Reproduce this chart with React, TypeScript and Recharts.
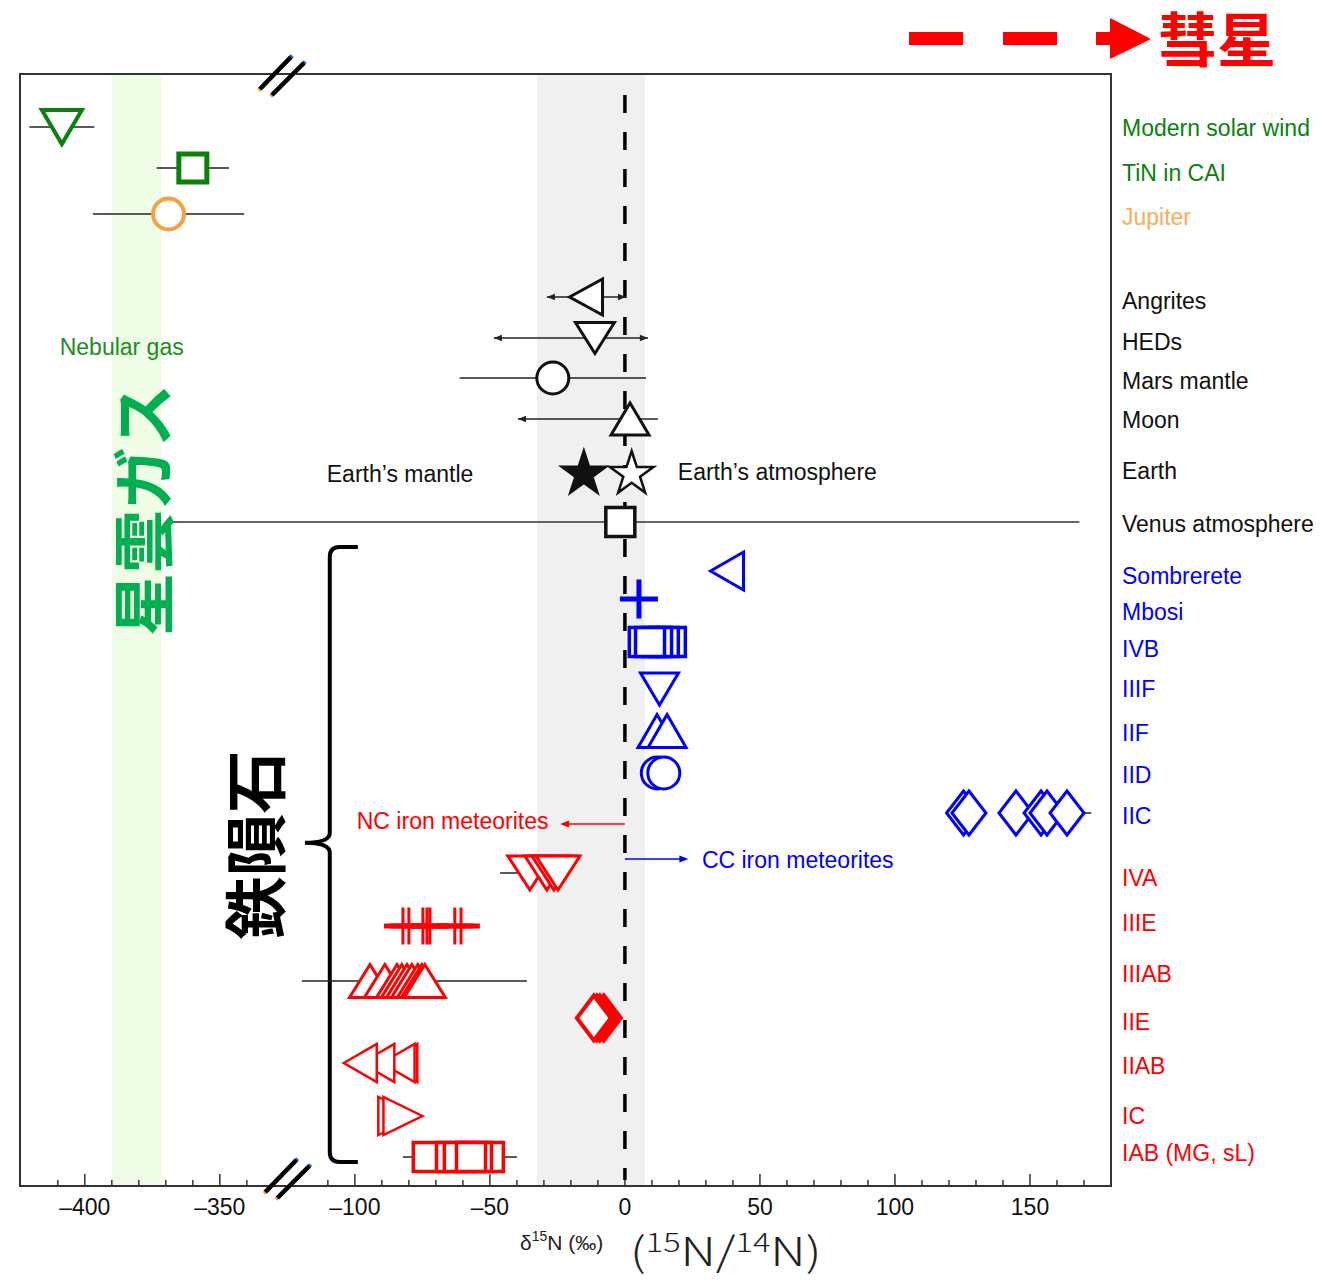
import React from 'react';
import {
  ScatterChart, Scatter, XAxis, YAxis, ErrorBar,
  ReferenceArea, ReferenceLine, ReferenceDot,
} from 'recharts';

// ---------- styling constants ----------
const FONT = '"Liberation Sans", Arial, Helvetica, sans-serif';
const CJK = '"Noto Sans CJK JP", "Noto Sans CJK SC", sans-serif';
const GREEN = '#0a820a';
const ORANGE = '#f7a040';
const ORANGE_L = '#ffaa55';
const BLACK = '#111111';
const BLUE = '#0000ff';
const RED = '#ff0000';

// ---------- broken x axis: values below -250 ‰ are shifted by +200 ----------
const BREAK_SHIFT = 200;
const toAxis = (v: number) => (v < -250 ? v + BREAK_SHIFT : v);
const fromAxis = (c: number) => (c < -125 ? c - BREAK_SHIFT : c);
const X_DOMAIN: [number, number] = [-224, 180];
const Y_DOMAIN: [number, number] = [0, 1112];

const MAJOR_TICK_VALUES = [-400, -350, -100, -50, 0, 50, 100, 150];
const MINOR_TICK_VALUES = [
  -410, -390, -380, -370, -360, -340,
  -110, -90, -80, -70, -60, -40, -30, -20, -10,
  10, 20, 30, 40, 60, 70, 80, 90, 110, 120, 130, 140, 160, 170,
];

// ---------- right-hand category labels ----------
const LABELS = [
  'Modern solar wind', 'TiN in CAI', 'Jupiter',
  'Angrites', 'HEDs', 'Mars mantle', 'Moon', 'Earth', 'Venus atmosphere',
  'Sombrerete', 'Mbosi', 'IVB', 'IIIF', 'IIF', 'IID', 'IIC',
  'IVA', 'IIIE', 'IIIAB', 'IIE', 'IIAB', 'IC', 'IAB (MG, sL)',
];
const LABEL_ROWS = [54, 99, 143, 227, 268, 307, 346, 397, 450, 502, 538, 575, 615, 659, 701, 742, 804, 849, 900, 948, 992, 1042, 1079];
const LABEL_COLORS = [
  GREEN, GREEN, ORANGE_L,
  BLACK, BLACK, BLACK, BLACK, BLACK, BLACK,
  BLUE, BLUE, BLUE, BLUE, BLUE, BLUE, BLUE,
  RED, RED, RED, RED, RED, RED, RED,
];

// ---------- marker rows ----------
const ROW = {
  solarWind: 53, tin: 94, jupiter: 140,
  angrites: 223, heds: 264, mars: 304, moon: 345, earth: 398, venus: 448,
  sombrerete: 497, mbosi: 525, ivb: 568, iiif: 615, iif: 657, iid: 699, iic: 739,
  iva: 799, iiie: 852, iiiab: 907, iie: 944, iiab: 989, ic: 1042, iab: 1083,
};

// ---------- δ15N values (‰) and x-errors ----------
const solarWind = [-408.5];
const solarWindErr = [12];
const tinCAI = [-360];
const tinCAIErr = [13.4];
const jupiter = [-369];
const jupiterErr = [28];

const angrites = [-14.4];
const angritesErr: [number, number][] = [[14.5, 14.8]];
const heds = [-11.1];
const hedsErr: [number, number][] = [[37.4, 19.6]];
const marsMantle = [-26.7];
const marsMantleErr = [34.5];
const moon = [1.9];
const moonErr: [number, number][] = [[41.5, 10.3]];
const earthMantle = [-15.2];
const earthAtmosphere = [2.5];
const venus = [-1.7];
const venusErr: [number, number][] = [[168, 170]];

const sombrerete = [37.8];
const mbosi = [5.2];
const ivb = [17.0, 14.4, 11.9, 7.0, 9.3];
const iiif = [12.8];
const iif = [11.9, 15.6];
const iid = [12.0, 14.4];
const iic = [125.4, 127.4, 144.8, 154.1, 156.3, 163.7];
const iicErr = [0, 0, 0, 0, 0, 9];

const iva = [-35.2, -28.9, -26.3, -24.8];
const ivaErr = [11, 0, 0, 0];
const iiie = [-82.2, -80.0, -74.8, -73.3, -72.2, -63.0, -60.7];
const iiieErr = [7, 7, 7, 7, 7, 7, 7];
const iiiab = [-94.4, -88.9, -84.4, -82.6, -80.7, -78.9, -76.7, -75.2, -74.1];
const iiiabErr: (number | [number, number])[] = [0, 0, 0, 0, 0, [40.7, 42.6], 0, 0, 0];
const iie = [-7.8, -9.3, -10.4, -11.5];
const iiab = [-83.0, -84.0, -91.5, -98.0];
const ic = [-84.1, -82.2];
const iab = [-50.4, -54.8, -73.0, -64.4, -61.5, -57.0];
const iabErr: (number | [number, number])[] = [0, 0, 0, 0, [20.7, 21.5], 0];

// ---------- helpers ----------
type Err = number | [number, number];
const pts = (vals: number[], row: number, errs?: Err[]) =>
  vals.map((v, i) => ({ x: toAxis(v), y: row, err: errs ? errs[i] : 0 }));

const arrowTips = (vals: number[], errs: [number, number][], row: number, sides: ('L' | 'R')[]) =>
  sides.map((s) => ({ x: toAxis(s === 'L' ? vals[0] - errs[0][0] : vals[0] + errs[0][1]), y: row, dir: s }));

type MK = { kind: string; stroke: string; fill?: string; sw?: number; w?: number; h?: number };

function drawMarker(m: MK, cx: number, cy: number) {
  const { kind, stroke, fill = '#fff', sw = 3, w = 40, h = 40 } = m;
  const hw = w / 2;
  const hh = h / 2;
  const c = { stroke, fill, strokeWidth: sw, strokeLinejoin: 'miter' as const };
  switch (kind) {
    case 'triDown':
      return <polygon points={`${cx - hw},${cy - hh} ${cx + hw},${cy - hh} ${cx},${cy + hh}`} {...c} />;
    case 'triUp':
      return <polygon points={`${cx},${cy - hh} ${cx + hw},${cy + hh} ${cx - hw},${cy + hh}`} {...c} />;
    case 'triLeft':
      return <polygon points={`${cx - hw},${cy} ${cx + hw},${cy - hh} ${cx + hw},${cy + hh}`} {...c} />;
    case 'triRight':
      return <polygon points={`${cx + hw},${cy} ${cx - hw},${cy - hh} ${cx - hw},${cy + hh}`} {...c} />;
    case 'square':
      return <rect x={cx - hw} y={cy - hh} width={w} height={h} {...c} />;
    case 'circle':
      return <circle cx={cx} cy={cy} r={hw} {...c} />;
    case 'diamond':
      return <polygon points={`${cx},${cy - hh} ${cx + hw},${cy} ${cx},${cy + hh} ${cx - hw},${cy}`} {...c} />;
    case 'star': {
      const p: string[] = [];
      for (let i = 0; i < 10; i++) {
        const a = (-90 + i * 36) * (Math.PI / 180);
        const r = i % 2 === 0 ? hw : hw * 0.382;
        p.push(`${cx + r * Math.cos(a)},${cy + 2 + r * Math.sin(a)}`);
      }
      return <polygon points={p.join(' ')} {...c} />;
    }
    case 'plus':
      return (
        <g stroke={stroke} strokeWidth={sw}>
          <line x1={cx - hw} y1={cy} x2={cx + hw} y2={cy} />
          <line x1={cx} y1={cy - hh} x2={cx} y2={cy + hh} />
        </g>
      );
    case 'vbar':
      return <line x1={cx} y1={cy - hh} x2={cx} y2={cy + hh} stroke={stroke} strokeWidth={sw} />;
    default:
      return <g />;
  }
}
const shapeOf = (m: MK) => (p: any) => (p.cx == null || p.cy == null ? <g /> : drawMarker(m, p.cx, p.cy));

const arrowHead = (color: string) => (p: any) => {
  if (p.cx == null) return <g />;
  const { cx, cy } = p;
  const dir = p.payload?.dir ?? p.dir;
  const s = dir === 'L' ? 1 : -1;
  return <polygon points={`${cx},${cy} ${cx + s * 8},${cy - 3.2} ${cx + s * 8},${cy + 3.2}`} fill={color} />;
};

const fmtTick = (c: number) => {
  const v = Math.round(fromAxis(c));
  return v < 0 ? `\u2013${Math.abs(v)}` : `${v}`;
};

const RightLabel = (p: any) => {
  const i = LABEL_ROWS.indexOf(p.payload.value);
  return (
    <text x={p.x} y={p.y} dy="0.36em" textAnchor="start" fill={LABEL_COLORS[i]} fontSize={23} fontFamily={FONT}>
      {LABELS[i]}
    </text>
  );
};

// annotations inside the plot (positions in δ15N / row units)
const ANNOTATIONS = [
  { text: 'Nebular gas', v: -409.3, row: 273, color: '#1e8c1e' },
  { text: 'Earth\u2019s mantle', v: -110.4, row: 400, color: BLACK },
  { text: 'Earth\u2019s atmosphere', v: 19.6, row: 398, color: BLACK },
  { text: 'NC iron meteorites', v: -99.3, row: 747, color: RED },
  { text: 'CC iron meteorites', v: 28.5, row: 786, color: BLUE },
];
const VERTICAL_TEXT = [
  { text: '星雲ガス', v: -379.6, row: 436, color: '#00b050' },
  { text: '鉄隕石', v: -138.1, row: 771, color: '#000' },
];

const textShape = (t: { text: string; color: string }) => (p: any) => (
  <text x={p.cx} y={p.cy} dy="0.36em" textAnchor="start" fill={t.color} fontSize={23} fontFamily={FONT}>{t.text}</text>
);
const vTextShape = (t: { text: string; color: string }) => (p: any) => (
  <text x={p.cx} y={p.cy} textAnchor="middle" dominantBaseline="central" fill={t.color} fontSize={63}
    fontWeight={700} fontFamily={CJK} transform={`rotate(-90 ${p.cx} ${p.cy})`}>{t.text}</text>
);

const breakShape = (p: any) => {
  const { cx, cy } = p;
  const seg = (x1: number, y1: number, x2: number, y2: number, k: string) => (
    <g key={k}>
      <line x1={cx + x1 - 1.3} y1={cy + y1 + 1.3} x2={cx + x2 - 1.3} y2={cy + y2 + 1.3} stroke="#f0a030" strokeWidth={4} />
      <line x1={cx + x1 + 1.3} y1={cy + y1 - 1.3} x2={cx + x2 + 1.3} y2={cy + y2 - 1.3} stroke="#2a5cc8" strokeWidth={4} />
      <line x1={cx + x1} y1={cy + y1} x2={cx + x2} y2={cy + y2} stroke="#000" strokeWidth={4.5} />
    </g>
  );
  return <g>{seg(-22, 14, 9, -18, 'a')}{seg(-10, 20, 22, -12, 'b')}</g>;
};

const braceShape = (p: any) => {
  const { x, y, width, height } = p;
  const L = x;
  const R = x + width;
  const Sx = x + width * 0.47;
  const T = y;
  const B = y + height;
  const M = y + height * 0.481;
  const d = `M ${R} ${T} L ${Sx + 10} ${T} Q ${Sx} ${T} ${Sx} ${T + 10} L ${Sx} ${M - 10} Q ${Sx} ${M} ${L} ${M} Q ${Sx} ${M} ${Sx} ${M + 10} L ${Sx} ${B - 10} Q ${Sx} ${B} ${Sx + 10} ${B} L ${R} ${B}`;
  return <path d={d} fill="none" stroke="#000" strokeWidth={4} />;
};

const frameShape = (p: any) => {
  const { x, y, width, height } = p;
  return <rect x={x} y={y} width={width} height={height} fill="none" stroke="#333" strokeWidth={2} />;
};

const headShape = (color: string, dir: 'L' | 'R') => (p: any) => {
  const { cx, cy } = p;
  const s = dir === 'L' ? 1 : -1;
  return <polygon points={`${cx},${cy} ${cx + s * 9},${cy - 3.5} ${cx + s * 9},${cy + 3.5}`} fill={color} />;
};

const S = (data: any[], m: MK, err?: { stroke: string; sw: number }) => (
  <Scatter data={data} shape={shapeOf(m)} isAnimationActive={false}>
    {err && <ErrorBar dataKey="err" direction="x" width={0} stroke={err.stroke} strokeWidth={err.sw} />}
  </Scatter>
);

const thin = { stroke: '#222', sw: 1.6 };
const TICK_LEN_MAJOR = 12;
const TICK_LEN_MINOR = 6;

export default function App() {
  const majors = MAJOR_TICK_VALUES.map(toAxis);
  const minors = MINOR_TICK_VALUES.map(toAxis);
  const yBottom = Y_DOMAIN[1];
  return (
    <div style={{ position: 'absolute', left: 0, top: 0, width: 1320, height: 1280, background: '#fff' }}>
      <ScatterChart width={1320} height={1280} margin={{ top: 74, right: 9, bottom: 34, left: 20 }}>
        <XAxis xAxisId={0} type="number" dataKey="x" domain={X_DOMAIN} allowDataOverflow ticks={majors} interval={0}
          tickFormatter={fmtTick} tickLine={false} tickSize={6} tickMargin={7} height={60}
          axisLine={{ stroke: '#333', strokeWidth: 2 }}
          tick={{ fontSize: 23, fill: BLACK, fontFamily: FONT }} />
        <YAxis yAxisId={0} orientation="right" type="number" dataKey="y" domain={Y_DOMAIN} reversed allowDataOverflow
          ticks={LABEL_ROWS} interval={0} tick={RightLabel} tickLine={false} tickSize={6} tickMargin={5} width={200}
          axisLine={{ stroke: '#333', strokeWidth: 2 }} />

        {/* bands */}
        <ReferenceArea x1={toAxis(-390)} x2={toAxis(-371.5)} y1={0} y2={1112} fill="#effde6" fillOpacity={1} stroke="none" />
        <ReferenceArea x1={-32.6} x2={7.4} y1={0} y2={1112} fill="#f0f0f0" fillOpacity={1} stroke="none" />
        <ReferenceArea x1={X_DOMAIN[0]} x2={X_DOMAIN[1]} y1={0} y2={1112} shape={frameShape} />

        {/* inward tick marks on the bottom axis */}
        {majors.map((t) => (
          <ReferenceLine key={`M${t}`} segment={[{ x: t, y: yBottom - TICK_LEN_MAJOR }, { x: t, y: yBottom }]} stroke="#333" strokeWidth={1.5} />
        ))}
        {minors.map((t) => (
          <ReferenceLine key={`m${t}`} segment={[{ x: t, y: yBottom - TICK_LEN_MINOR }, { x: t, y: yBottom }]} stroke="#333" strokeWidth={1.5} />
        ))}

        <ReferenceLine segment={[{ x: 0, y: 21 }, { x: 0, y: 1106 }]} stroke="#000" strokeWidth={3.5} strokeDasharray="18 19" />

        {/* NC / CC arrows */}
        <ReferenceLine segment={[{ x: 0, y: 750 }, { x: -23, y: 750 }]} stroke={RED} strokeWidth={1.5} />
        <ReferenceDot x={-24} y={750} r={0} shape={headShape(RED, 'L')} />
        <ReferenceLine segment={[{ x: 0, y: 785 }, { x: 22.5, y: 785 }]} stroke={BLUE} strokeWidth={1.5} />
        <ReferenceDot x={23.5} y={785} r={0} shape={headShape(BLUE, 'R')} />

        {/* brace */}
        <ReferenceArea x1={-118.5} x2={-98.9} y1={473} y2={1088} shape={braceShape} />

        {/* annotations */}
        {ANNOTATIONS.map((a) => (
          <ReferenceDot key={a.text} x={toAxis(a.v)} y={a.row} r={0} shape={textShape(a)} ifOverflow="visible" />
        ))}
        {VERTICAL_TEXT.map((a) => (
          <ReferenceDot key={a.text} x={toAxis(a.v)} y={a.row} r={0} shape={vTextShape(a)} ifOverflow="visible" />
        ))}

        {/* nebular gas / Jupiter */}
        {S(pts(solarWind, ROW.solarWind, solarWindErr), { kind: 'triDown', stroke: GREEN, sw: 4, w: 40, h: 34 }, thin)}
        {S(pts(tinCAI, ROW.tin, tinCAIErr), { kind: 'square', stroke: GREEN, sw: 5, w: 28, h: 28 }, thin)}
        {S(pts(jupiter, ROW.jupiter, jupiterErr), { kind: 'circle', stroke: ORANGE, sw: 4, w: 31 }, thin)}

        {/* planetary bodies */}
        {S(pts(angrites, ROW.angrites, angritesErr), { kind: 'triLeft', stroke: BLACK, sw: 3, w: 33, h: 36 }, thin)}
        {S(pts(heds, ROW.heds, hedsErr), { kind: 'triDown', stroke: BLACK, sw: 3, w: 39, h: 31 }, thin)}
        {S(pts(marsMantle, ROW.mars, [marsMantleErr[0]]), { kind: 'circle', stroke: BLACK, sw: 3, w: 32 }, thin)}
        {S(pts(moon, ROW.moon, moonErr), { kind: 'triUp', stroke: BLACK, sw: 3, w: 38, h: 32 }, thin)}
        {S(pts(earthMantle, ROW.earth), { kind: 'star', stroke: BLACK, fill: BLACK, sw: 2, w: 48 })}
        {S(pts(earthAtmosphere, ROW.earth), { kind: 'star', stroke: BLACK, sw: 2.5, w: 46 })}
        {S(pts(venus, ROW.venus, venusErr), { kind: 'square', stroke: BLACK, sw: 3.5, w: 29, h: 29 }, { stroke: '#333', sw: 1.6 })}
        <Scatter data={[
          ...arrowTips(angrites, angritesErr, ROW.angrites, ['L', 'R']),
          ...arrowTips(heds, hedsErr, ROW.heds, ['L', 'R']),
          ...arrowTips(moon, moonErr, ROW.moon, ['L']),
        ]} shape={arrowHead('#222')} isAnimationActive={false} />

        {/* CC iron meteorites (blue) */}
        {S(pts(sombrerete, ROW.sombrerete), { kind: 'triLeft', stroke: BLUE, sw: 3, w: 33, h: 38 })}
        {S(pts(mbosi, ROW.mbosi), { kind: 'plus', stroke: BLUE, sw: 5, w: 38, h: 39 })}
        {S(pts(ivb, ROW.ivb), { kind: 'square', stroke: BLUE, sw: 3.5, w: 29, h: 29 })}
        {S(pts(iiif, ROW.iiif), { kind: 'triDown', stroke: BLUE, sw: 3, w: 38, h: 32 })}
        {S(pts(iif, ROW.iif), { kind: 'triUp', stroke: BLUE, sw: 3, w: 38, h: 33 })}
        {S(pts(iid, ROW.iid), { kind: 'circle', stroke: BLUE, sw: 3, w: 32 })}
        {S(pts(iic, ROW.iic, iicErr), { kind: 'diamond', stroke: BLUE, sw: 3, w: 34, h: 44 }, thin)}

        {/* NC iron meteorites (red) */}
        {S(pts(iva, ROW.iva, ivaErr), { kind: 'triDown', stroke: RED, sw: 3, w: 44, h: 34 }, thin)}
        {S(pts(iiie, ROW.iiie, iiieErr), { kind: 'vbar', stroke: RED, sw: 3, h: 37 }, { stroke: RED, sw: 5 })}
        {S(pts(iiiab, ROW.iiiab, iiiabErr), { kind: 'triUp', stroke: RED, sw: 3, w: 41, h: 33 }, thin)}
        {S(pts(iie, ROW.iie), { kind: 'diamond', stroke: RED, sw: 4, w: 34, h: 45 })}
        {S(pts(iiab, ROW.iiab), { kind: 'triLeft', stroke: RED, sw: 2.5, w: 33, h: 38 })}
        {S(pts(ic, ROW.ic), { kind: 'triRight', stroke: RED, sw: 2.5, w: 39, h: 38 })}
        {S(pts(iab, ROW.iab, iabErr), { kind: 'square', stroke: RED, sw: 3.5, w: 29, h: 29 }, thin)}

        {/* axis break marks */}
        <ReferenceDot x={-127} y={1} r={0} shape={breakShape} ifOverflow="visible" />
        <ReferenceDot x={-125} y={1104} r={0} shape={breakShape} ifOverflow="visible" />
      </ScatterChart>

      {/* comet arrow (top) */}
      <svg width={1320} height={74} style={{ position: 'absolute', left: 0, top: 0, overflow: 'visible' }}>
        <rect x={909} y={32} width={54} height={13} fill={RED} />
        <rect x={1003} y={32} width={54} height={13} fill={RED} />
        <rect x={1096} y={32} width={16} height={13} fill={RED} />
        <polygon points="1110,18 1151,39 1110,59" fill={RED} />
        <text x={1158} y={62} fill={RED} fontSize={59} fontWeight={700} fontFamily={CJK}>彗星</text>
      </svg>

      {/* x-axis title */}
      <svg width={1320} height={80} style={{ position: 'absolute', left: 0, top: 1198, overflow: 'visible' }}>
        <text x={520} y={52} fill="#222" fontSize={21} fontFamily={FONT}>
          δ<tspan fontSize={14} dy={-9}>15</tspan><tspan dy={9}>N (‰)</tspan>
        </text>
        <text x={630} y={68} fill="#222" fontSize={40} fontWeight={300} fontFamily={CJK}
          transform="translate(630 0) scale(1.25 1) translate(-630 0)">
          (<tspan fontSize={26} dy={-14}>15</tspan><tspan dy={14}>N/</tspan><tspan fontSize={26} dy={-14}>14</tspan><tspan dy={14}>N)</tspan>
        </text>
      </svg>
    </div>
  );
}
